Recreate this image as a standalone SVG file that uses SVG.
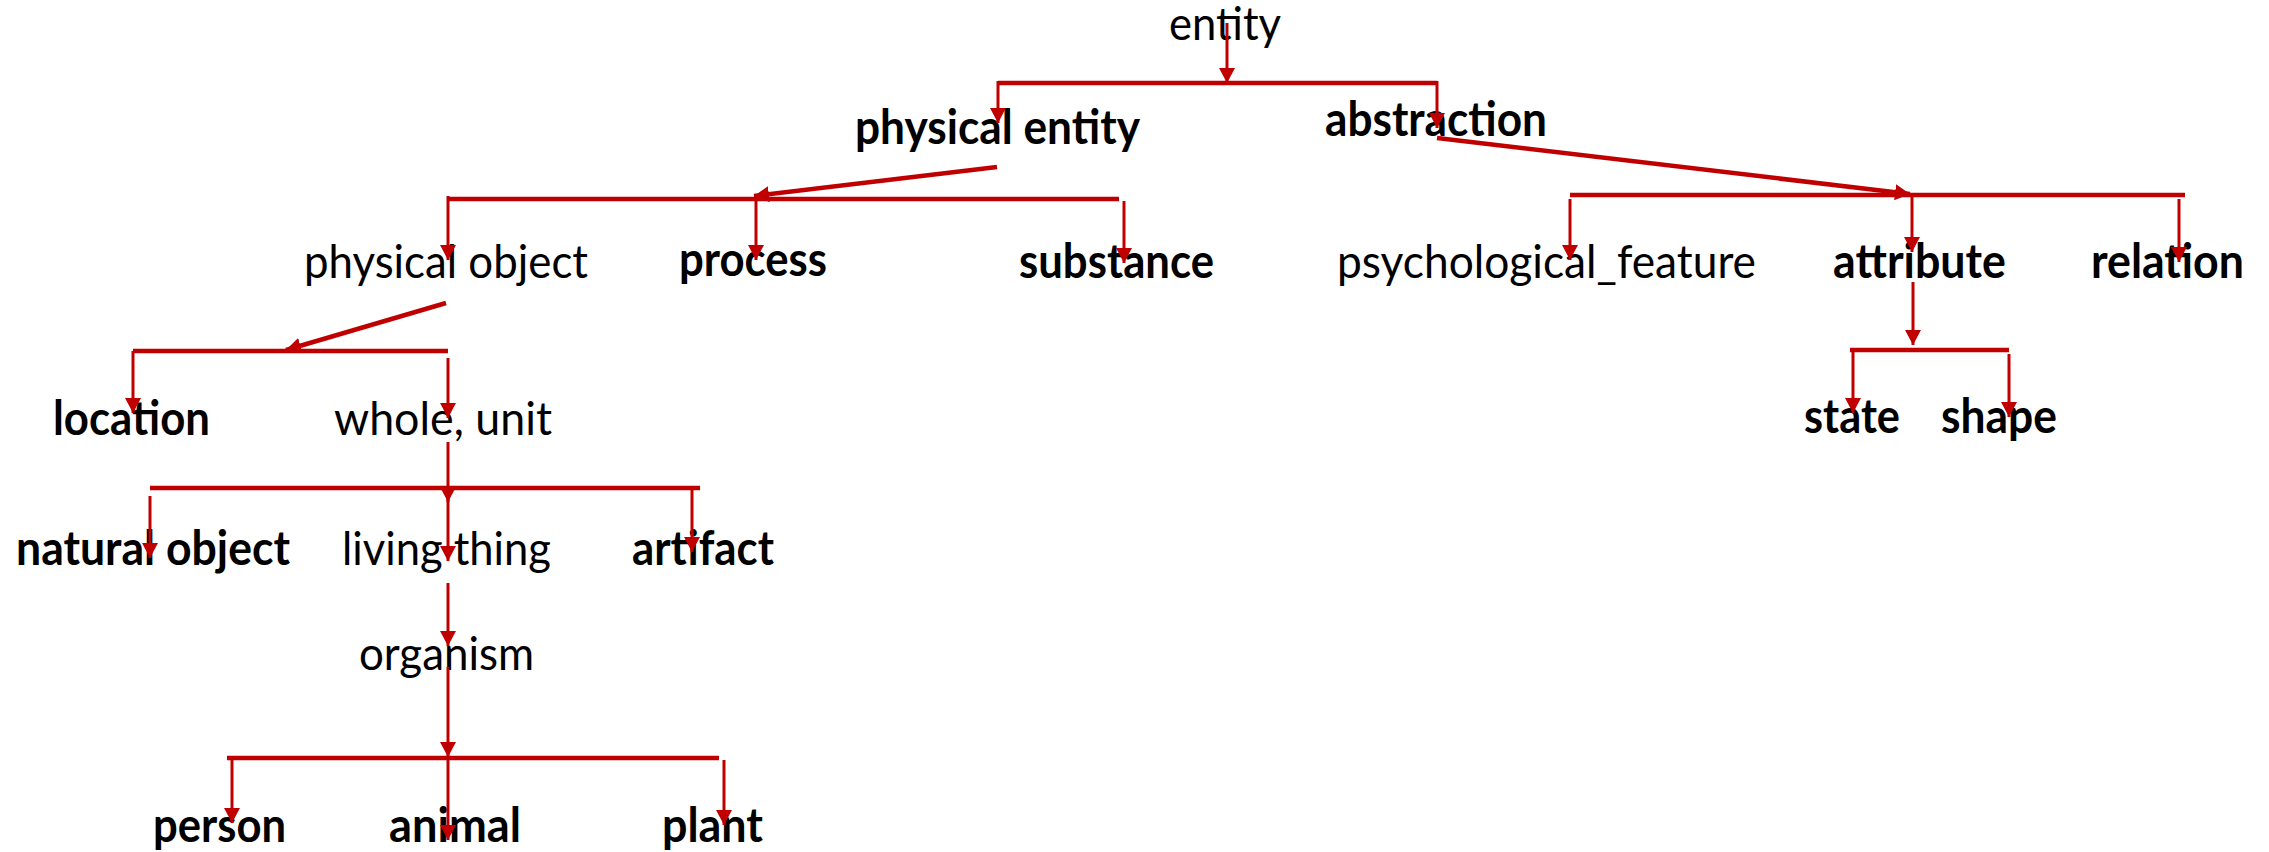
<svg xmlns="http://www.w3.org/2000/svg" width="2269" height="852" viewBox="0 0 2269 852">
<style>
text{font-family:Lato,"Open Sans",sans-serif;font-size:47px;fill:#000}
.b{font-weight:bold}
.c line{stroke:#C00000;stroke-width:3;fill:none}
.c line.t{stroke-width:4.5}
.c line.a{marker-end:url(#ah)}
</style>
<defs>
<marker id="ah" viewBox="0 0 15 16" refX="15" refY="8" markerWidth="15" markerHeight="16" markerUnits="userSpaceOnUse" orient="auto">
<path d="M0,0 L15,8 L0,16 z" fill="#C00000"/>
</marker>
</defs>
<rect width="2269" height="852" fill="#fff"/>
<g id="n-entity"><text x="1169" y="40" textLength="112" lengthAdjust="spacingAndGlyphs">entity</text></g>
<g id="n-physical-entity"><text class="b" x="855" y="144" textLength="285" lengthAdjust="spacingAndGlyphs">physical entity</text></g>
<g id="n-abstraction"><text class="b" x="1325" y="136" textLength="222" lengthAdjust="spacingAndGlyphs">abstraction</text></g>
<g id="n-physical-object"><text x="304" y="278" textLength="284" lengthAdjust="spacingAndGlyphs">physical object</text></g>
<g id="n-process"><text class="b" x="679" y="276" textLength="148" lengthAdjust="spacingAndGlyphs">process</text></g>
<g id="n-substance"><text class="b" x="1019" y="278" textLength="195" lengthAdjust="spacingAndGlyphs">substance</text></g>
<g id="n-psychological-feature"><text x="1337" y="278" textLength="419" lengthAdjust="spacingAndGlyphs">psychological_feature</text></g>
<g id="n-attribute"><text class="b" x="1833" y="278" textLength="173" lengthAdjust="spacingAndGlyphs">attribute</text></g>
<g id="n-relation"><text class="b" x="2091" y="278" textLength="153" lengthAdjust="spacingAndGlyphs">relation</text></g>
<g id="n-location"><text class="b" x="53" y="435" textLength="157" lengthAdjust="spacingAndGlyphs">location</text></g>
<g id="n-whole-unit"><text x="334" y="435" textLength="218" lengthAdjust="spacingAndGlyphs">whole, unit</text></g>
<g id="n-state"><text class="b" x="1804" y="433" textLength="96" lengthAdjust="spacingAndGlyphs">state</text></g>
<g id="n-shape"><text class="b" x="1941" y="433" textLength="116" lengthAdjust="spacingAndGlyphs">shape</text></g>
<g id="n-natural-object"><text class="b" x="16" y="565" textLength="274" lengthAdjust="spacingAndGlyphs">natural object</text></g>
<g id="n-living-thing"><text x="342" y="565" textLength="209" lengthAdjust="spacingAndGlyphs">living thing</text></g>
<g id="n-artifact"><text class="b" x="632" y="565" textLength="142" lengthAdjust="spacingAndGlyphs">artifact</text></g>
<g id="n-organism"><text x="359" y="670" textLength="175" lengthAdjust="spacingAndGlyphs">organism</text></g>
<g id="n-person"><text class="b" x="153" y="842" textLength="133" lengthAdjust="spacingAndGlyphs">person</text></g>
<g id="n-animal"><text class="b" x="389" y="842" textLength="132" lengthAdjust="spacingAndGlyphs">animal</text></g>
<g id="n-plant"><text class="b" x="662" y="842" textLength="101" lengthAdjust="spacingAndGlyphs">plant</text></g>
<g id="connectors" class="c">
<line class="a" x1="1227" y1="23" x2="1227" y2="83"/>
<line class="t" x1="998" y1="83" x2="1437" y2="83"/>
<line class="a" x1="998" y1="81" x2="998" y2="123"/>
<line class="a" x1="1437" y1="81" x2="1437" y2="128"/>
<line class="t a" x1="997" y1="167" x2="754" y2="196"/>
<line class="t" x1="448" y1="199" x2="1119" y2="199"/>
<line class="a" x1="448" y1="196" x2="448" y2="260"/>
<line class="a" x1="756" y1="196" x2="756" y2="260"/>
<line class="a" x1="1124" y1="201" x2="1124" y2="263"/>
<line class="t a" x1="1437" y1="138" x2="1910" y2="194"/>
<line class="t" x1="1570" y1="195" x2="2185" y2="195"/>
<line class="a" x1="1570" y1="199" x2="1570" y2="260"/>
<line class="a" x1="1912" y1="195" x2="1912" y2="252"/>
<line class="a" x1="2179" y1="199" x2="2179" y2="262"/>
<line class="a" x1="1913" y1="282" x2="1913" y2="345"/>
<line class="t" x1="1850" y1="350" x2="2009" y2="350"/>
<line class="a" x1="1853" y1="350" x2="1853" y2="413"/>
<line class="a" x1="2009" y1="354" x2="2009" y2="417"/>
<line class="t a" x1="446" y1="303" x2="286" y2="350"/>
<line class="t" x1="133" y1="351" x2="448" y2="351"/>
<line class="a" x1="133" y1="351" x2="133" y2="413"/>
<line class="a" x1="448" y1="358" x2="448" y2="418"/>
<line class="a" x1="448" y1="442" x2="448" y2="502"/>
<line class="t" x1="150" y1="488" x2="700" y2="488"/>
<line class="a" x1="150" y1="496" x2="150" y2="558"/>
<line class="a" x1="448" y1="488" x2="448" y2="561"/>
<line class="a" x1="692" y1="488" x2="692" y2="552"/>
<line class="a" x1="448" y1="583" x2="448" y2="646"/>
<line class="a" x1="448" y1="667" x2="448" y2="757"/>
<line class="t" x1="227" y1="758" x2="719" y2="758"/>
<line class="a" x1="232" y1="758" x2="232" y2="823"/>
<line class="a" x1="448" y1="758" x2="448" y2="840"/>
<line class="a" x1="724" y1="760" x2="724" y2="825"/>
</g>
</svg>
